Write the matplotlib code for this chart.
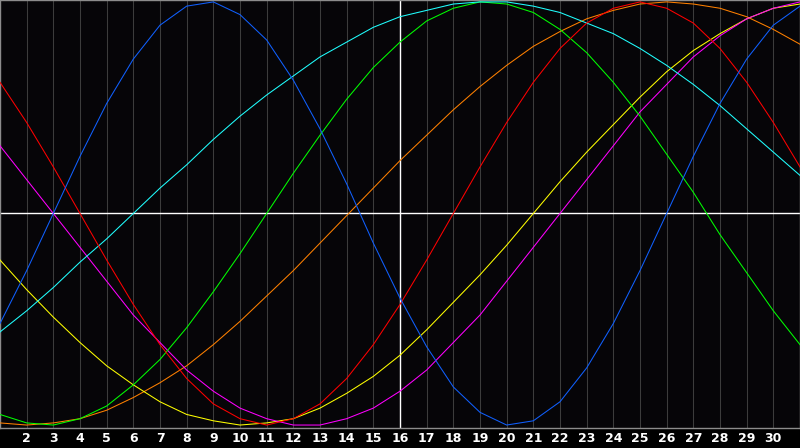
import matplotlib
matplotlib.use("Agg")
from matplotlib import pyplot as plt

# 日期 (1..31)
days = list(range(1, 32))
tick_days = list(range(2, 31))

# 各条曲线的取值 (百分比, 从图上读出)
blue = [-52, -27, 0, 27, 52, 73, 89, 98, 100, 94, 82, 63, 40, 14, -14, -40,
        -63, -82, -94, -100, -98, -89, -73, -52, -27, 0, 27, 52, 73, 89, 98]
red = [62, 43, 22, 0, -22, -43, -62, -78, -90, -97, -100, -97, -90, -78, -62, -43,
       -22, 0, 22, 43, 62, 78, 90, 97, 100, 97, 90, 78, 62, 43, 22]
green = [-95, -99, -100, -97, -91, -81, -69, -54, -37, -19, 0, 19, 37, 54, 69, 81,
         91, 97, 100, 99, 95, 87, 76, 62, 46, 28, 10, -10, -28, -46, -62]
cyan = [-56, -46, -35, -23, -12, 0, 12, 23, 35, 46, 56, 65, 74, 81, 88, 93,
        96, 99, 100, 100, 98, 95, 90, 85, 78, 70, 61, 51, 40, 29, 18]
orange = [-99, -100, -99, -97, -93, -87, -80, -72, -62, -51, -39, -27, -14, -1, 12, 25,
          37, 49, 60, 70, 79, 86, 92, 96, 99, 100, 99, 97, 93, 87, 80]
yellow = [-22, -36, -49, -61, -72, -81, -89, -95, -98, -100, -99, -97, -92, -85, -77, -67,
          -55, -42, -29, -15, 0, 15, 29, 42, 55, 67, 77, 85, 92, 97, 99]
magenta = [32, 16, 0, -16, -32, -48, -61, -74, -84, -92, -97, -100, -100, -97, -92, -84,
           -74, -61, -48, -32, -16, 0, 16, 32, 48, 61, 74, 84, 92, 97, 100]

series = [
    (orange, "#ff8000"),
    (yellow, "#ffff00"),
    (magenta, "#ff00ff"),
    (green, "#00ff00"),
    (cyan, "#20ffff"),
    (red, "#ff0000"),
    (blue, "#1060ff"),
]

# 设置大小和 dpi
fig = plt.figure(figsize=(8, 4.48), dpi=100, facecolor="black")
ax = fig.add_axes([0, 20 / 448, 1, 428 / 448])
ax.set_facecolor("#060508")

# 网格竖线
for d in tick_days:
    ax.axvline(d, color="#3c3c3c", lw=0.75, zorder=1)
# 中心十字线
ax.axvline(16, color="white", lw=1, zorder=2)
ax.axhline(0, color="white", lw=1, zorder=2)

# 画曲线
for values, color in series:
    ax.plot(days, values, color=color, lw=0.75, zorder=3)

ax.set_xlim(1, 31)
ax.set_ylim(-101.4, 100.9)

# x 刻度
ax.set_xticks(tick_days)
ax.set_xticklabels([str(d) for d in tick_days], color="white",
                   fontsize=9, fontweight="bold", family="DejaVu Sans")
ax.tick_params(axis="x", length=0, pad=3)
ax.set_yticks([])

for spine in ax.spines.values():
    spine.set_color("#8c8c8c")
    spine.set_linewidth(1)

# 保存图片
plt.savefig("out.png", dpi=100, facecolor="black")
